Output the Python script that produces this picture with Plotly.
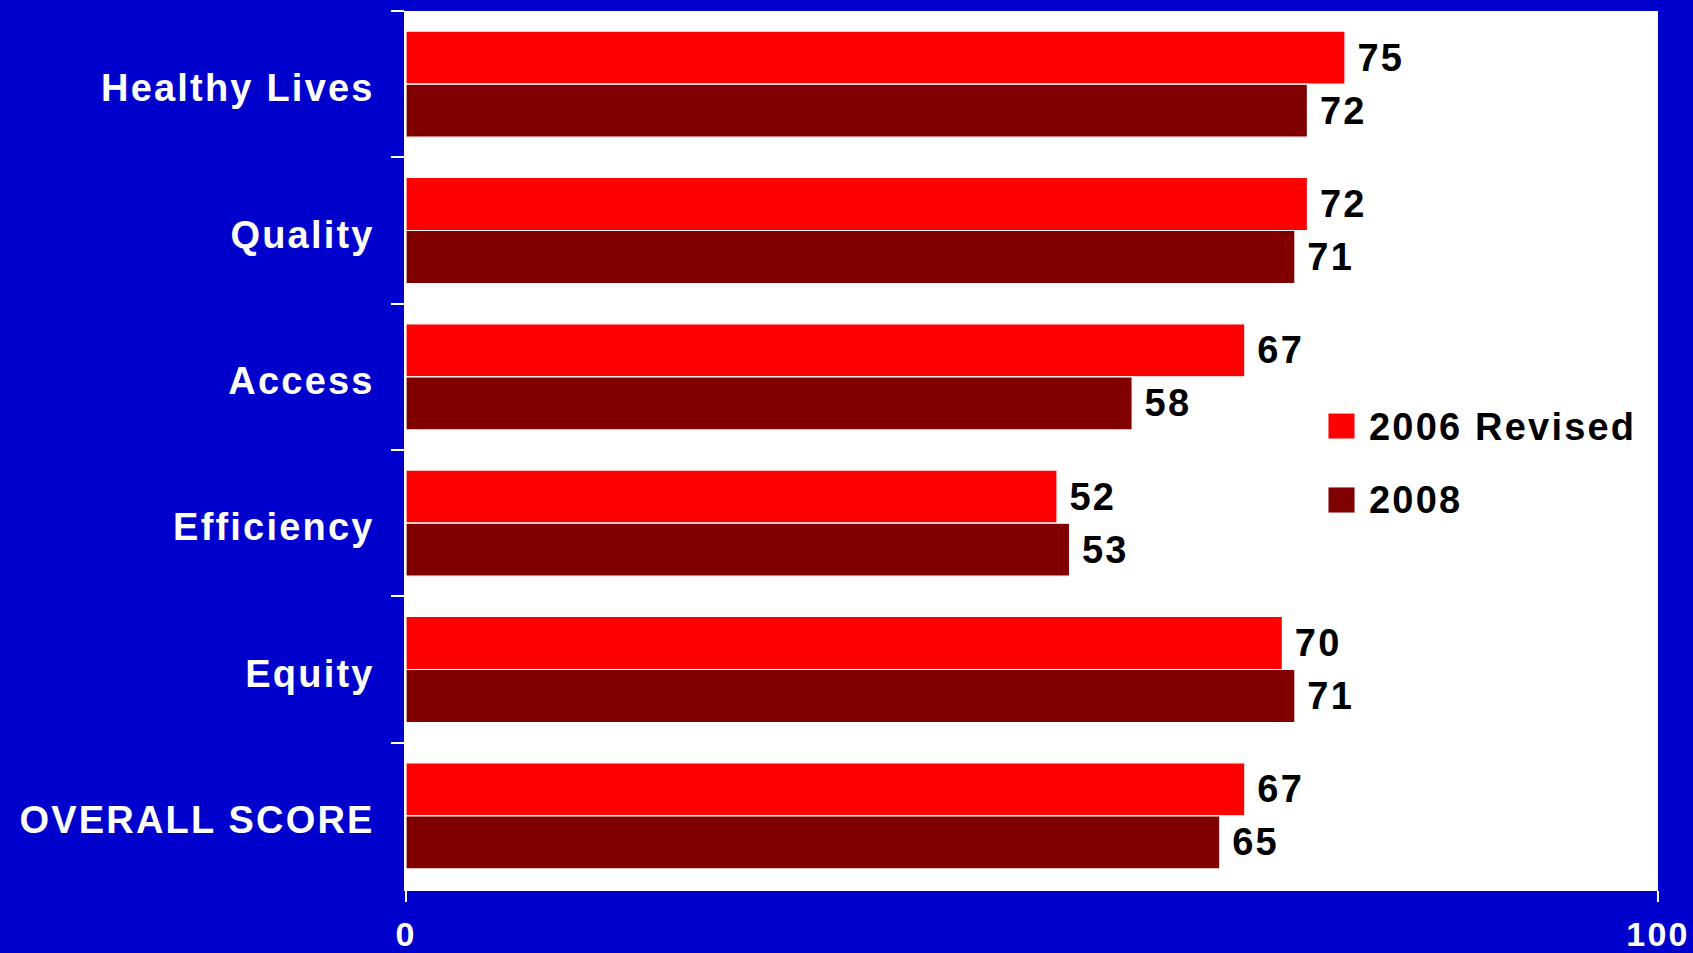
import plotly.graph_objects as go

# Scores by dimension
categories = ["Healthy Lives", "Quality", "Access", "Efficiency", "Equity", "OVERALL SCORE"]
scores_2006 = [75, 72, 67, 52, 70, 67]
scores_2008 = [72, 71, 58, 53, 71, 65]
series_names = ["2006 Revised", "2008"]
series_colors = ["#FF0000", "#800000"]
x_ticks = [0, 100]

FONT = "Liberation Sans, Arial, sans-serif"
BG = "#0000CC"

fig = go.Figure()
for name, vals, col in zip(series_names, [scores_2006, scores_2008], series_colors):
    fig.add_trace(go.Bar(
        y=categories, x=vals, name=name, orientation="h",
        marker=dict(color=col, line=dict(color="white", width=1.2)),
        text=[f" {v}" for v in vals], textposition="outside",
        textfont=dict(family=FONT, size=38, color="black", weight="bold"),
        constraintext="none", cliponaxis=False, showlegend=False,
    ))

fig.update_layout(
    width=1693, height=953,
    margin=dict(l=406, r=35, t=11, b=64, pad=0, autoexpand=False),
    paper_bgcolor=BG, plot_bgcolor="white",
    barmode="group", bargap=0.275, bargroupgap=0,
    showlegend=False,
)

fig.update_xaxes(
    range=[0, 100], tickvals=x_ticks, ticktext=[str(t) for t in x_ticks],
    showgrid=False, zeroline=False, automargin=False,
    ticks="outside", ticklen=11, tickwidth=1.5, tickcolor="white",
    showline=True, linecolor="white", linewidth=1.5,
    ticklabelstandoff=3,
    tickfont=dict(family=FONT, size=34, color="white", weight="bold"),
)
fig.update_yaxes(
    autorange="reversed", tickson="boundaries", automargin=False,
    ticks="outside", ticklen=13, tickwidth=1.5, tickcolor="white",
    showline=True, linecolor="white", linewidth=1.5, showgrid=False,
    ticklabelstandoff=22, ticklabelshift=-4,
    tickfont=dict(family=FONT, size=38, color="white", weight="bold"),
)

# Legend drawn as swatches + labels inside the plot area
legend_rows = [(0.5421, 0.5125, 0.5262), (0.4579, 0.4282, 0.4431)]
for (top, bot, mid), name, col in zip(legend_rows, series_names, series_colors):
    fig.add_shape(type="rect", xref="paper", yref="paper",
                  x0=0.7364, x1=0.7580, y0=bot, y1=top,
                  fillcolor=col, line=dict(color="white", width=1))
    fig.add_annotation(xref="paper", yref="paper", x=0.7676, y=mid,
                       xanchor="left", yanchor="middle", align="left",
                       showarrow=False, text=name,
                       font=dict(family=FONT, size=38, color="black", weight="bold"))

spacing_js = """
var gd = document.getElementById('{plot_id}');
function spaceText() {
  gd.querySelectorAll('text').forEach(function (t) { t.style.letterSpacing = '2.2px'; });
}
spaceText();
if (gd.on) { gd.on('plotly_afterplot', spaceText); }
"""

fig.write_html("out.html", post_script=spacing_js)
